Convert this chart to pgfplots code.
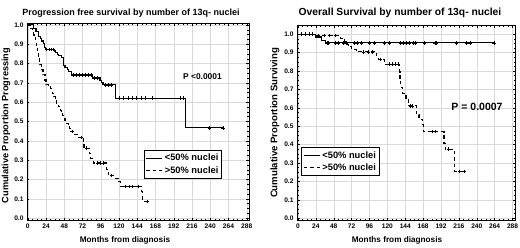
\documentclass[border=0pt]{standalone}
\usepackage{fontspec}
\setmainfont{Liberation Sans}
\usepackage{pgfplots}
\pgfplotsset{compat=1.18}
\begin{document}
\begin{tikzpicture}[x=1pt,y=1pt]
\useasboundingbox (0pt,0pt) rectangle (520pt,247pt);
\pgfplotsset{
 km/.style={scale only axis, grid=major, major grid style={gray!30,line width=0.4pt},
  axis line style={black,line width=0.8pt},
  xtick={0,24,48,72,96,120,144,168,192,216,240,264,288},
  ytick={0,0.1,0.2,0.3,0.4,0.5,0.6,0.7,0.8,0.9,1.0},
  minor x tick num=3, minor y tick num=3,
  tick align=inside, major tick length=2.5pt, minor tick length=1.5pt,
  tick style={black,line width=0.4pt},
  every tick label/.append style={font=\bfseries\fontsize{6.6}{7.5}\selectfont},
  /pgf/number format/assume math mode=true,
  yticklabel style={/pgf/number format/.cd,fixed,fixed zerofill,precision=1},
  xticklabel style={/pgf/number format/.cd,fixed,precision=0},
  legend image code/.code={\draw[##1] (0pt,0pt) -- (16pt,0pt);},
 },
 solidkm/.style={const plot, black, line width=1.1pt},
 dashkm/.style={const plot, black, line width=1.1pt, dash pattern=on 3.5pt off 3pt},
 cens/.style={only marks, mark=+, mark size=1.7pt, black, line width=0.6pt, forget plot},
}
% ---------------- Left panel ----------------
\begin{axis}[km, at={(27pt,27pt)}, anchor=south west, width=222pt, height=197pt,
  xmin=-1, xmax=291, ymin=-0.01, ymax=1.01,
  legend style={at={(0.703,0.282)}, anchor=center, draw=black, line width=0.8pt,
    font=\bfseries\fontsize{9.3}{10}\selectfont, fill=white, inner sep=1.5pt,
    cells={anchor=west}}]
\addplot[solidkm] coordinates {(0,1.0)(7.5,0.983)(10.9,0.965)(14,0.94)(16.2,0.928)(18.4,0.917)(20.5,0.905)(21.8,0.885)(23,0.874)(35,0.865)(37,0.856)(39,0.848)(41,0.84)(44,0.83)(46.8,0.79)(49,0.78)(52,0.77)(54,0.758)(57,0.741)(85,0.725)(95,0.71)(97,0.70)(99,0.69)(115,0.621)(207,0.467)(257,0.467)};
\addlegendentry{<50\% nuclei}
\addplot[cens] coordinates {(25,0.874)(28,0.874)(31,0.874)(33,0.874)(60,0.741)(64,0.741)(68,0.741)(72,0.741)(76,0.741)(80,0.741)(84,0.741)(88,0.725)(91,0.725)(102,0.69)(106,0.69)(110,0.69)(120,0.621)(126,0.621)(132,0.621)(137,0.621)(143,0.621)(149,0.621)(155,0.621)(164,0.621)(200,0.621)(205,0.621)(239,0.467)(257,0.467)};
\addplot[dashkm] coordinates {(0,1.0)(3,0.98)(6,0.965)(8,0.948)(10,0.92)(11,0.895)(13,0.862)(14,0.836)(16,0.793)(18,0.767)(20,0.742)(22.7,0.715)(24,0.69)(27,0.68)(30,0.669)(32,0.647)(34,0.629)(36,0.607)(38,0.59)(40,0.58)(41.5,0.569)(43,0.555)(44.6,0.543)(46,0.53)(47.7,0.517)(49,0.503)(51,0.488)(53,0.477)(54.7,0.466)(57.7,0.448)(62,0.435)(66.5,0.417)(73,0.396)(74,0.362)(81,0.336)(83,0.31)(86,0.285)(104,0.25)(106,0.219)(114.6,0.207)(119,0.19)(122,0.164)(150,0.138)(151,0.086)(157.5,0.086)};
\addlegendentry{>50\% nuclei}
\addplot[cens] coordinates {(58,0.448)(70,0.417)(77,0.362)(92,0.285)(96,0.285)(100,0.285)(110,0.219)(128,0.164)(133,0.164)(138,0.164)(145,0.164)(157.5,0.086)};
\end{axis}
% ---------------- Right panel ----------------
\begin{axis}[km, at={(297pt,27pt)}, anchor=south west, width=218pt, height=195pt,
  xmin=-1.3, xmax=291.3, ymin=-0.01, ymax=1.05,
  legend style={at={(0.2,0.30)}, anchor=center, draw=black, line width=0.8pt,
    font=\bfseries\fontsize{9.3}{10}\selectfont, fill=white, inner sep=1.5pt,
    cells={anchor=west}}]
\addplot[solidkm] coordinates {(0,1.0)(24,0.985)(32,0.968)(37,0.953)(263,0.953)};
\addlegendentry{<50\% nuclei}
\addplot[cens] coordinates {(39,0.953)(41,0.953)(50,0.953)(54,0.953)(61,0.953)(65,0.953)(76,0.953)(80,0.953)(85,0.953)(96,0.953)(103,0.953)(116,0.953)(123,0.953)(138,0.953)(141,0.953)(146,0.953)(150,0.953)(155,0.953)(158,0.953)(170,0.953)(184,0.953)(186,0.953)(213,0.953)(226,0.953)(231,0.953)(263,0.953)};
\addplot[dashkm] coordinates {(0,1.0)(21,0.993)(57,0.977)(63,0.958)(64,0.945)(67.5,0.931)(72,0.917)(78,0.904)(106,0.877)(108,0.863)(116,0.837)(136,0.796)(137,0.75)(138,0.711)(140,0.679)(145,0.651)(148,0.61)(159,0.561)(162.5,0.538)(167,0.507)(168,0.47)(196,0.408)(198,0.375)(209.7,0.3)(210.2,0.254)(223,0.254)};
\addlegendentry{>50\% nuclei}
\addplot[cens] coordinates {(5,1)(10,1)(15,1)(19,1)(27,0.993)(35,0.993)(42,0.993)(50,0.993)(88,0.904)(95,0.904)(100,0.904)(110,0.863)(122,0.837)(126,0.837)(130,0.837)(134,0.837)(151,0.61)(154,0.61)(180,0.47)(184,0.47)(202,0.375)(217,0.254)(223,0.254)};
\end{axis}
% ---------------- Text ----------------
\node[font=\bfseries\fontsize{9}{10}\selectfont] at (131pt,234.3pt) {Progression free survival by number of 13q- nuclei};
\node[font=\bfseries\fontsize{10.3}{11}\selectfont] at (400pt,233.7pt) {Overall Survival by number of 13q- nuclei};
\node[font=\bfseries\fontsize{8.2}{9}\selectfont] at (125pt,7pt) {Months from diagnosis};
\node[font=\bfseries\fontsize{8.2}{9}\selectfont] at (397pt,7pt) {Months from diagnosis};
\node[font=\bfseries\fontsize{9.2}{10}\selectfont, rotate=90] at (6pt,121.5pt) {Cumulative Proportion Progressing};
\node[font=\bfseries\fontsize{9.6}{10}\selectfont, rotate=90] at (275pt,124pt) {Cumulative Proportion Surviving};
\node[font=\bfseries\fontsize{8.4}{9}\selectfont] at (202.5pt,170pt) {P <0.0001};
\node[font=\bfseries\fontsize{10.5}{11}\selectfont] at (477pt,140pt) {P = 0.0007};
\end{tikzpicture}
\end{document}
